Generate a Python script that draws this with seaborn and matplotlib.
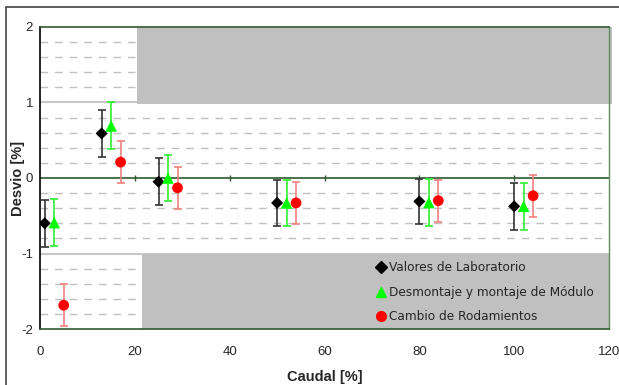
import numpy as np
import pandas as pd
import seaborn as sns
import matplotlib.pyplot as plt
from matplotlib.patches import Rectangle

# data
series_names = ["Valores de Laboratorio", "Desmontaje y montaje de Módulo", "Cambio de Rodamientos"]

lab_x = [1, 13, 25, 50, 80, 100]
lab_y = [-0.60, 0.59, -0.05, -0.33, -0.31, -0.375]
lab_err = [0.31, 0.31, 0.31, 0.31, 0.30, 0.31]

mod_x = [3, 15, 27, 52, 82, 102]
mod_y = [-0.59, 0.69, 0.0, -0.33, -0.325, -0.375]
mod_err = [0.31, 0.31, 0.31, 0.31, 0.31, 0.31]

rod_x = [5, 17, 29, 54, 84, 104]
rod_y = [-1.685, 0.21, -0.13, -0.33, -0.30, -0.235]
rod_err = [0.28, 0.28, 0.28, 0.28, 0.28, 0.28]

x_ticks = [0, 20, 40, 60, 80, 100, 120]
y_ticks = [-2, -1, 0, 1, 2]

df = pd.DataFrame({
    "Caudal": lab_x + mod_x + rod_x,
    "Desvio": lab_y + mod_y + rod_y,
    "err": lab_err + mod_err + rod_err,
    "serie": [series_names[0]] * 6 + [series_names[1]] * 6 + [series_names[2]] * 6,
})

colors = {series_names[0]: "black", series_names[1]: "#00ff00", series_names[2]: "#ff0000"}
bar_colors = {series_names[0]: "#333333", series_names[1]: "#33ee33", series_names[2]: "#f08080"}
markers = {series_names[0]: "D", series_names[1]: "^", series_names[2]: "o"}
sizes = {series_names[0]: 38, series_names[1]: 70, series_names[2]: 60}

sns.set_style("white")
plt.rcParams["font.family"] = ["Liberation Sans", "DejaVu Sans"]
plt.rcParams["axes.unicode_minus"] = False

fig = plt.figure(figsize=(6.19, 3.85), dpi=100)
ax = fig.add_axes([40 / 619, 56 / 385, 569 / 619, 302 / 385])

# figure frame
fig.patches.append(Rectangle((6 / 619, -0.02), 1.0, (385 - 7.5) / 385 + 0.02,
                             transform=fig.transFigure, fill=False,
                             edgecolor="#444444", linewidth=1.2))

# grid
for v in np.arange(-1.8, 2.0, 0.2):
    if abs(v - round(v)) < 1e-6:
        continue
    ax.axhline(v, color="#c0c0c0", linewidth=1, dashes=(5.5, 5), zorder=0)
ax.axhline(1, color="#c8c8c8", linewidth=1.5, zorder=0)
ax.axhline(-1, color="#c8c8c8", linewidth=1.5, zorder=0)

# gray bands
ax.add_patch(Rectangle((20.5, 0.98), 100.2, 1.02, facecolor="#c0c0c0",
                       edgecolor="none", zorder=1, clip_on=False))
ax.add_patch(Rectangle((21.5, -2), 98.5, 1.0, facecolor="#c0c0c0",
                       edgecolor="none", zorder=1))

# zero axis with ticks
ax.axhline(0, color="#2f5a2f", linewidth=1.2, zorder=2)
ax.plot(x_ticks[1:-1], [0] * 5, linestyle="none", marker="|", markersize=4,
        color="#2f5a2f", zorder=2)

for name in series_names:
    sub = df[df["serie"] == name]
    ax.errorbar(sub["Caudal"], sub["Desvio"], yerr=sub["err"], fmt="none",
                ecolor=bar_colors[name], elinewidth=1.2, capsize=3, capthick=1.2, zorder=3)

sns.scatterplot(data=df, x="Caudal", y="Desvio", hue="serie", style="serie",
                palette=colors, markers=markers, size="serie", sizes=sizes,
                edgecolor="none", linewidth=0, ax=ax, zorder=4, legend=False)

ax.set_xlim(0, 120)
ax.set_ylim(-2, 2)
ax.set_xticks(x_ticks)
ax.set_yticks(y_ticks)
ax.tick_params(axis="both", labelsize=9.5, length=0)
ax.tick_params(axis="x", pad=12)
ax.tick_params(axis="y", pad=5)

for side in ["top", "bottom"]:
    ax.spines[side].set_color("#2f5a2f")
    ax.spines[side].set_linewidth(1.2)
ax.spines["left"].set_color("black")
ax.spines["left"].set_linewidth(1.2)
ax.spines["right"].set_color("#5f8a5f")
ax.spines["right"].set_linewidth(1.0)
for s in ax.spines.values():
    s.set_zorder(5)

ax.set_xlabel("Caudal [%]", fontsize=10.5, fontweight="bold")
ax.set_ylabel("Desvio [%]", fontsize=10.5, fontweight="bold")
ax.yaxis.set_label_coords(-0.027, 0.5)
ax.xaxis.set_label_coords(0.5, -0.135)

handles = [plt.Line2D([], [], linestyle="none", marker=markers[n], color=colors[n],
                      markersize=7 if n != series_names[0] else 6) for n in series_names]
leg = ax.legend(handles, series_names, loc="upper left", bbox_to_anchor=(0.585, 0.24),
                frameon=False, handlelength=0.6, handletextpad=0.3, labelspacing=0.95,
                borderaxespad=0, prop={"family": "DejaVu Sans", "size": 8.7})

fig.savefig("out.png", dpi=100)
